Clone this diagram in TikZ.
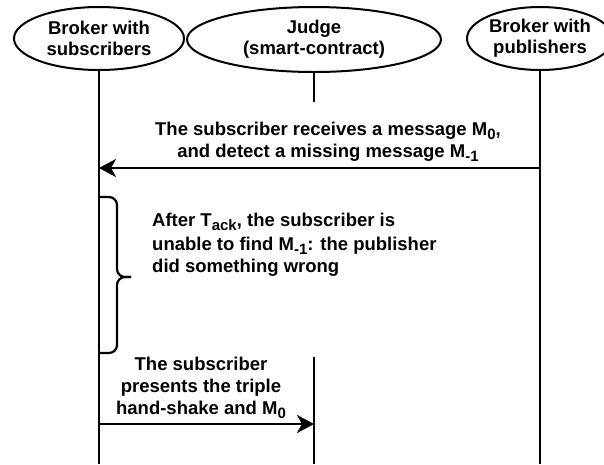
\documentclass[tikz,border=0pt]{standalone}
\usepackage{fontspec}
\setmainfont{Liberation Sans}
\usetikzlibrary{arrows.meta,shapes.geometric}

% subscript as draw.io sets it
\newcommand{\lowsub}[1]{\raisebox{-4pt}{\fontsize{15}{15}\selectfont #1}}

\begin{document}
\begin{tikzpicture}[x=1pt, y=-1pt,
  actor/.style={draw, ellipse, line width=2pt, inner sep=0pt, align=center,
    font=\bfseries\fontsize{18.5}{21}\selectfont},
  life/.style={line width=2.2pt},
  msg/.style={line width=2.2pt, -{Stealth[length=17pt, width=18pt, inset=5pt]}},
  note/.style={inner sep=0pt, font=\bfseries\fontsize{18.5}{22}\selectfont}]
\useasboundingbox (0,0) rectangle (604,464);

% Participants
\node[actor, minimum width=170pt, minimum height=63pt] (sub) at (99,38.5) {Broker with\\subscribers};
\node[actor, minimum width=254pt, minimum height=65pt] (judge) at (314,39.5) {Judge\\(smart-contract)};
\node[actor, minimum width=146pt, minimum height=63pt] (pub) at (540,38.5) {Broker with\\publishers};

% Lifelines
\coordinate (subEnd) at (99,464);
\coordinate (judgeStop) at (314,102);
\coordinate (judgeRes) at (314,357);
\coordinate (judgeEnd) at (314,464);
\coordinate (pubEnd) at (540,464);
\draw[life] (sub) -- (subEnd);
\draw[life] (judge) -- (judgeStop);
\draw[life] (judgeRes) -- (judgeEnd);
\draw[life] (pub) -- (pubEnd);

% Message M0 received
\coordinate (recvFrom) at (540,168);
\coordinate (recvTo) at (99,168);
\draw[msg] (recvFrom) -- (recvTo);
\node[note, anchor=north, align=center] (recvText) at (328,122)
{The subscriber receives a message M\lowsub{0},\\and detect a missing message M\lowsub{-1}};

% Waiting T_ack
\coordinate (braceTop) at (99,197);
\coordinate (braceTip) at (131,277);
\coordinate (braceBot) at (99,353);
\draw[life, rounded corners=8pt] (braceTop) -- (117,197) -- (117,277) -- (braceTip);
\draw[life, rounded corners=8pt] (braceTip) -- (117,277) -- (117,353) -- (braceBot);
\node[note, anchor=north west, align=left] (gapText) at (152,213)
{After T\lowsub{ack}, the subscriber is\\[2pt]unable to find M\lowsub{-1}: the publisher\\did something wrong};

% Proof sent to the judge
\coordinate (proofFrom) at (99,424);
\coordinate (proofTo) at (314,424);
\draw[msg] (proofFrom) -- (proofTo);
\node[note, anchor=north, align=center] (proofText) at (201,357)
{The subscriber\\presents the triple\\hand-shake and M\lowsub{0}};
\end{tikzpicture}
\end{document}
